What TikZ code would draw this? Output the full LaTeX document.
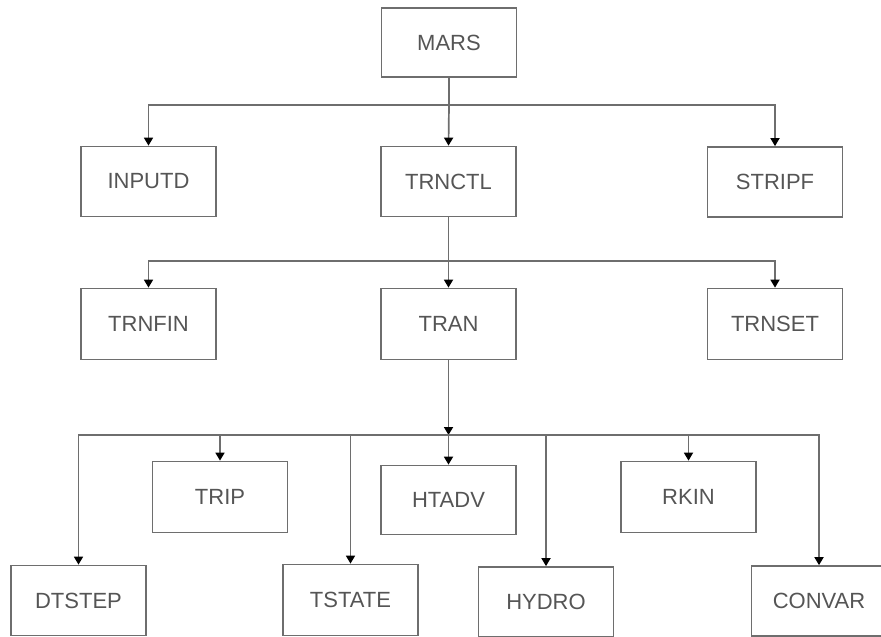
\documentclass[tikz,border=0pt]{standalone}
\usepackage{fontspec}
\setmainfont{Liberation Sans}
\usetikzlibrary{arrows.meta}
\definecolor{linegray}{HTML}{6E6E6E}
\definecolor{textgray}{HTML}{555555}
\begin{document}
\begin{tikzpicture}[x=1pt,y=-1pt,
 box/.style={draw=linegray, line width=1.7pt, rectangle, minimum width=135pt, minimum height=69pt, inner sep=0pt, text=textgray, font=\fontsize{22}{25}\selectfont},
 conn/.style={draw=linegray, line width=1.7pt},
 arr/.style={conn, -{Triangle[length=8pt,width=9pt,color=black]}},
]
\useasboundingbox (0,0) rectangle (881,637);
\clip (0,0) rectangle (881,637);
% row 0
\node[box] (mars) at (449,42.5) {MARS};
% row 1
\node[box, minimum height=70pt] (inputd) at (148.5,181.5) {INPUTD};
\node[box, minimum height=70pt] (trnctl) at (448.5,181.5) {TRNCTL};
\node[box, minimum height=70pt] (stripf) at (775,182) {STRIPF};
% row 2
\node[box, minimum height=71pt] (trnfin) at (148.5,324) {TRNFIN};
\node[box, minimum height=71pt] (tran) at (448.5,324) {TRAN};
\node[box, minimum height=71pt] (trnset) at (775,324) {TRNSET};
% row 3
\node[box, minimum height=71pt] (trip) at (220,497) {TRIP};
\node[box, minimum height=69pt] (htadv) at (448.5,500) {HTADV};
\node[box, minimum height=71pt] (rkin) at (688.5,497) {RKIN};
% row 4
\node[box, minimum height=70pt] (dtstep) at (78.5,600.5) {DTSTEP};
\node[box, minimum height=71pt] (tstate) at (350.5,600) {TSTATE};
\node[box, minimum height=70pt] (hydro) at (546,602) {HYDRO};
\node[box, minimum height=70pt] (convar) at (819,601) {CONVAR};
% connectors level 1
\coordinate (j1) at (449,105);
\draw[conn] (mars.south) -- (j1);
\draw[arr] (j1) -| (inputd.north);
\draw[arr] (j1) -| (stripf.north);
\draw[arr] (j1) -- (trnctl.north);
% connectors level 2
\coordinate (j2) at (448.5,261);
\draw[conn] (trnctl.south) -- (j2);
\draw[arr] (j2) -| (trnfin.north);
\draw[arr] (j2) -| (trnset.north);
\draw[arr] (j2) -- (tran.north);
% connectors level 3
\coordinate (j3) at (448.5,435);
\draw[arr] (tran.south) -- (j3);
\draw[arr] (j3) -| (dtstep.north);
\draw[arr] (j3) -| (convar.north);
\draw[arr] (j3) -- (htadv.north);
\draw[arr] (trip.north |- j3) -- (trip.north);
\draw[arr] (tstate.north |- j3) -- (tstate.north);
\draw[arr] (hydro.north |- j3) -- (hydro.north);
\draw[arr] (rkin.north |- j3) -- (rkin.north);
\end{tikzpicture}
\end{document}
